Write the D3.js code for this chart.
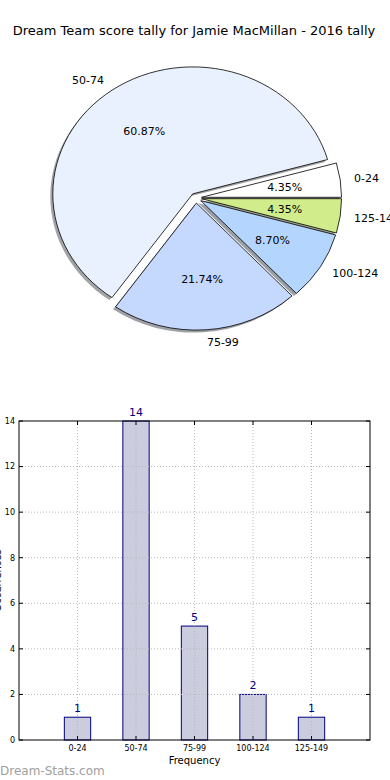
<!DOCTYPE html>
<html>
<head>
<meta charset="utf-8">
<script src="https://cdn.jsdelivr.net/npm/d3@7"></script>
<style>
  body { margin: 0; background: #fff; }
  svg { display: block; font-family: "DejaVu Sans", sans-serif; }
</style>
</head>
<body>
<svg width="390" height="780"></svg>
<script>
// chart data
var categories = ["0-24", "50-74", "75-99", "100-124", "125-149"]
var counts = [1, 14, 5, 2, 1]
var sliceColors = ["#ffffff", "#eaf1fe", "#c5d8fe", "#b4d6fe", "#d0ec8b"]
var yTicks = [0, 2, 4, 6, 8, 10, 12, 14]

var svg = d3.select("svg")

svg.append("text")
  .attr("x", 194).attr("y", 35)
  .attr("text-anchor", "middle")
  .style("font-size", "13px")
  .text("Dream Team score tally for Jamie MacMillan - 2016 tally")

// ---- pie (elliptical, like an un-equal matplotlib axes) ----
var cx = 196, cy = 198, rx = 140, ry = 127, explode = 0.04
var total = d3.sum(counts)

// matplotlib goes counter-clockwise from 3 o'clock
var pie = d3.pie().sort(null)
  .startAngle(Math.PI / 2)
  .endAngle(Math.PI / 2 - 2 * Math.PI)
var arcs = pie(counts)
var arc = d3.arc().innerRadius(0).outerRadius(1)

function mid(d) { return (d.startAngle + d.endAngle) / 2 }
function offX(d, k) { return cx + k * rx * Math.sin(mid(d)) }
function offY(d, k) { return cy - k * ry * Math.cos(mid(d)) }

var pieG = svg.append("g")

// shadows first, under every wedge
pieG.selectAll("path.shadow")
  .data(arcs)
  .enter()
  .append("path")
  .attr("class", "shadow")
  .attr("d", arc)
  .attr("transform", d => "translate(" + (offX(d, explode) - 2.5) + "," + (offY(d, explode) + 2.5) + ") scale(" + rx + "," + ry + ")")
  .attr("fill", (d, i) => {
    var c = d3.rgb(sliceColors[i])
    return d3.rgb(c.r * 0.3, c.g * 0.3, c.b * 0.3)
  })
  .attr("opacity", 0.5)

pieG.selectAll("path.wedge")
  .data(arcs)
  .enter()
  .append("path")
  .attr("class", "wedge")
  .attr("d", arc)
  .attr("transform", d => "translate(" + offX(d, explode) + "," + offY(d, explode) + ") scale(" + rx + "," + ry + ")")
  .attr("fill", (d, i) => sliceColors[i])
  .attr("stroke", "#000")
  .attr("stroke-width", 0.8)
  .attr("vector-effect", "non-scaling-stroke")

// category labels
pieG.selectAll("text.cat")
  .data(arcs)
  .enter()
  .append("text")
  .attr("x", d => offX(d, explode + 1.1))
  .attr("y", d => offY(d, explode + 1.1))
  .attr("dy", "0.35em")
  .attr("text-anchor", d => Math.sin(mid(d)) > 0 ? "start" : "end")
  .style("font-size", "11px")
  .text((d, i) => categories[i])

// percent labels
pieG.selectAll("text.pct")
  .data(arcs)
  .enter()
  .append("text")
  .attr("x", d => offX(d, explode + 0.6))
  .attr("y", d => offY(d, explode + 0.6))
  .attr("dy", "0.35em")
  .attr("text-anchor", "middle")
  .style("font-size", "11px")
  .text(d => (d.value / total * 100).toFixed(2) + "%")

// ---- bar chart ----
var plotLeft = 19, plotRight = 370, plotTop = 421, plotBottom = 740
var x = d3.scaleLinear().domain([-1, 5]).range([plotLeft, plotRight])
var y = d3.scaleLinear().domain([0, 14]).range([plotBottom, plotTop])
var barW = x(0.45) - x(0)

var barG = svg.append("g")

barG.selectAll("rect.bar")
  .data(counts)
  .enter()
  .append("rect")
  .attr("class", "bar")
  .attr("x", (d, i) => x(i) - barW / 2)
  .attr("y", d => y(d))
  .attr("width", barW)
  .attr("height", d => plotBottom - y(d))
  .attr("fill", "#ccccdf")
  .attr("stroke", "#000080")
  .attr("stroke-width", 1)

// dotted grid, drawn over the bars
barG.selectAll("line.gy")
  .data(yTicks.slice(1, -1))
  .enter()
  .append("line")
  .attr("class", "gy")
  .attr("x1", plotLeft).attr("x2", plotRight)
  .attr("y1", d => y(d)).attr("y2", d => y(d))
  .attr("stroke", "#b8b8b8")
  .attr("stroke-dasharray", "1,2")

barG.selectAll("line.gx")
  .data(categories)
  .enter()
  .append("line")
  .attr("class", "gx")
  .attr("x1", (d, i) => x(i)).attr("x2", (d, i) => x(i))
  .attr("y1", plotTop).attr("y2", plotBottom)
  .attr("stroke", "#b8b8b8")
  .attr("stroke-dasharray", "1,2")

// axes box
barG.append("rect")
  .attr("x", plotLeft).attr("y", plotTop)
  .attr("width", plotRight - plotLeft).attr("height", plotBottom - plotTop)
  .attr("fill", "none")
  .attr("stroke", "#000")
  .attr("stroke-width", 1)

// inward ticks on all four sides
yTicks.forEach(function(t) {
  barG.append("line").attr("x1", plotLeft).attr("x2", plotLeft + 4).attr("y1", y(t)).attr("y2", y(t)).attr("stroke", "#000")
  barG.append("line").attr("x1", plotRight - 4).attr("x2", plotRight).attr("y1", y(t)).attr("y2", y(t)).attr("stroke", "#000")
})
categories.forEach(function(c, i) {
  barG.append("line").attr("x1", x(i)).attr("x2", x(i)).attr("y1", plotBottom - 4).attr("y2", plotBottom).attr("stroke", "#000")
  barG.append("line").attr("x1", x(i)).attr("x2", x(i)).attr("y1", plotTop).attr("y2", plotTop + 4).attr("stroke", "#000")
})

barG.selectAll("text.ytick")
  .data(yTicks)
  .enter()
  .append("text")
  .attr("x", plotLeft - 4)
  .attr("y", d => y(d))
  .attr("dy", "0.35em")
  .attr("text-anchor", "end")
  .style("font-size", "8px")
  .text(d => d)

barG.selectAll("text.xtick")
  .data(categories)
  .enter()
  .append("text")
  .attr("x", (d, i) => x(i))
  .attr("y", plotBottom + 11)
  .attr("text-anchor", "middle")
  .style("font-size", "8px")
  .text(d => d)

// value labels above bars
barG.selectAll("text.val")
  .data(counts)
  .enter()
  .append("text")
  .attr("x", (d, i) => x(i))
  .attr("y", d => y(d) - 5)
  .attr("text-anchor", "middle")
  .attr("fill", "#000080")
  .style("font-size", "11px")
  .text(d => d)

svg.append("text")
  .attr("x", x(2)).attr("y", 764)
  .attr("text-anchor", "middle")
  .style("font-size", "10px")
  .text("Frequency")

// y label sits mostly off the left edge, as in the original image
svg.append("text")
  .attr("transform", "translate(1," + ((plotTop + plotBottom) / 2) + ") rotate(-90)")
  .attr("text-anchor", "middle")
  .style("font-size", "10px")
  .text("Occurrences")

svg.append("text")
  .attr("x", 0).attr("y", 775)
  .attr("fill", "#a0a0a0")
  .style("font-size", "12px")
  .text("Dream-Stats.com")
</script>
</body>
</html>
